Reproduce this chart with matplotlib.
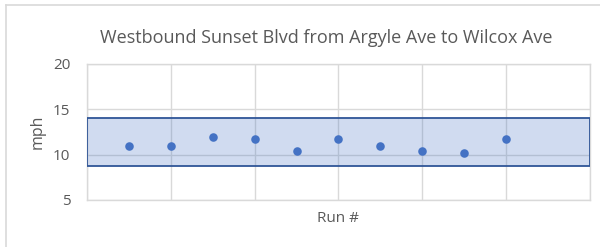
import matplotlib.pyplot as plt
from matplotlib.lines import Line2D

# run numbers and speeds (mph)
runs = [1, 2, 3, 4, 5, 6, 7, 8, 9, 10]
speeds = [11.0, 11.0, 12.0, 11.7, 10.45, 11.7, 11.0, 10.45, 10.2, 11.7]
band_low, band_high = 8.8, 14.05
y_ticks = [5, 10, 15, 20]
x_ticks = [0, 2, 4, 6, 8, 10, 12]

plt.rcParams['font.family'] = ['Open Sans', 'DejaVu Sans']
text_col = '#595959'
grid_col = '#d9d9d9'

fig = plt.figure(figsize=(6, 2.47), dpi=100)
ax = fig.add_axes([0.145, 0.1903, 0.8383, 0.5506])

# shaded band across the whole plot area
ax.axhspan(band_low, band_high, facecolor='#4472c4', alpha=0.25, zorder=1)
ax.axhspan(band_low, band_high, facecolor='none', edgecolor='#2f5597', linewidth=1.3, zorder=3)

ax.scatter(runs, speeds, s=38, color='#4472c4', zorder=4, linewidths=0)

ax.set_xlim(0, 12)
ax.set_ylim(5, 20)
ax.set_xticks(x_ticks)
ax.set_yticks(y_ticks)
ax.tick_params(axis='x', labelbottom=False, length=0)
ax.tick_params(axis='y', length=0, labelsize=11, labelcolor=text_col, pad=12)
ax.grid(True, color=grid_col, linewidth=1, zorder=0)
ax.set_axisbelow(True)
for s in ax.spines.values():
    s.set_color(grid_col)
    s.set_linewidth(1)

ax.set_ylabel('mph', fontsize=11.5, color=text_col, labelpad=5)
ax.set_xlabel('Run #', fontsize=11, color=text_col, labelpad=8)
fig.text(326 / 600, 1 - 38 / 247, 'Westbound Sunset Blvd from Argyle Ave to Wilcox Ave',
         fontsize=13, color=text_col, ha='center', va='center')

# chart frame (top and left visible)
fig.add_artist(Line2D([0.01, 1.0], [0.98, 0.98], color=grid_col, linewidth=1.2))
fig.add_artist(Line2D([0.01, 0.01], [0.0, 0.98], color=grid_col, linewidth=1.2))

plt.savefig('out.png', dpi=100)
